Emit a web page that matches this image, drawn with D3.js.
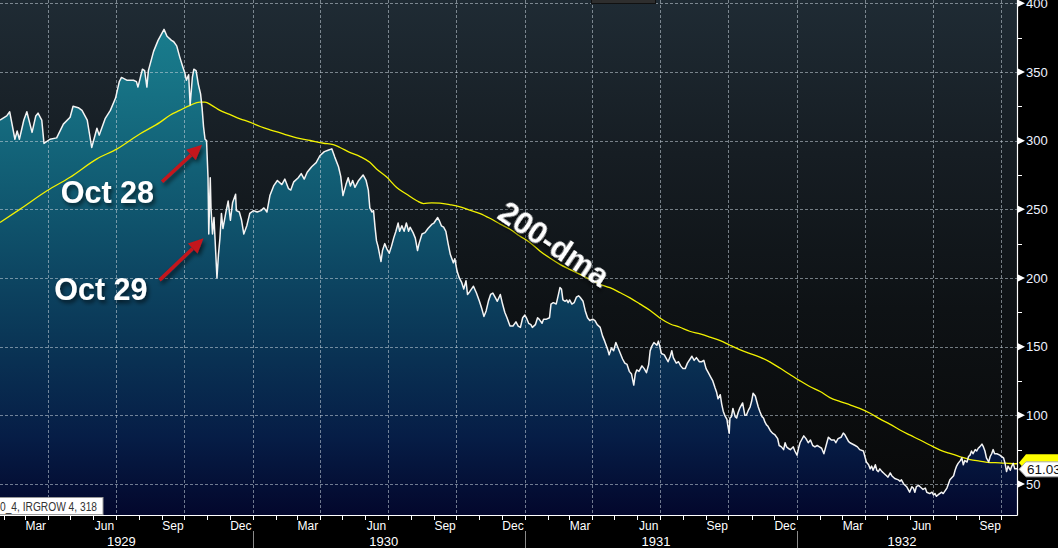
<!DOCTYPE html>
<html><head><meta charset="utf-8">
<script src="https://cdn.jsdelivr.net/npm/d3@7"></script>
<style>html,body{margin:0;padding:0;background:#000;overflow:hidden}svg{display:block}</style>
</head><body>
<svg id="chart" width="1058" height="548"></svg>
<script>
// ---------------- DATA ----------------
const closeDates = [
"1929-01-27","1929-02-05","1929-02-09","1929-02-16","1929-02-19","1929-02-22","1929-02-28","1929-03-04","1929-03-11","1929-03-16",
"1929-03-19","1929-03-24","1929-03-27","1929-04-04","1929-04-13","1929-04-22","1929-05-01","1929-05-05","1929-05-12","1929-05-17",
"1929-05-24","1929-05-30","1929-06-06","1929-06-09","1929-06-17","1929-06-24","1929-07-01","1929-07-06","1929-07-09","1929-07-16",
"1929-07-25","1929-07-29","1929-07-31","1929-08-06","1929-08-09","1929-08-12","1929-08-14","1929-08-21","1929-08-27","1929-09-04",
"1929-09-08","1929-09-14","1929-09-17","1929-09-21","1929-09-25","1929-09-29","1929-10-02","1929-10-04","1929-10-07","1929-10-09",
"1929-10-12","1929-10-14","1929-10-17","1929-10-20","1929-10-23","1929-10-25","1929-10-27","1929-10-29","1929-10-31","1929-11-02",
"1929-11-03","1929-11-05","1929-11-06","1929-11-08","1929-11-10","1929-11-14","1929-11-16","1929-11-18","1929-11-20","1929-11-22",
"1929-11-26","1929-11-29","1929-12-02","1929-12-05","1929-12-09","1929-12-10","1929-12-14","1929-12-17","1929-12-20","1929-12-24",
"1929-12-28","1930-01-02","1930-01-07","1930-01-12","1930-01-16","1930-01-20","1930-01-24","1930-01-29","1930-02-03","1930-02-09",
"1930-02-13","1930-02-18","1930-02-21","1930-02-25","1930-03-03","1930-03-07","1930-03-11","1930-03-15","1930-03-21","1930-03-27",
"1930-04-01","1930-04-07","1930-04-12","1930-04-17","1930-04-21","1930-04-26","1930-04-29","1930-05-02","1930-05-06","1930-05-09",
"1930-05-12","1930-05-15","1930-05-18","1930-05-23","1930-05-26","1930-05-29","1930-06-02","1930-06-05","1930-06-07","1930-06-10",
"1930-06-12","1930-06-14","1930-06-16","1930-06-18","1930-06-22","1930-06-24","1930-06-27","1930-06-30","1930-07-03","1930-07-06",
"1930-07-09","1930-07-12","1930-07-15","1930-07-17","1930-07-20","1930-07-23","1930-07-26","1930-07-29","1930-07-31","1930-08-04",
"1930-08-07","1930-08-10","1930-08-12","1930-08-16","1930-08-20","1930-08-24","1930-08-29","1930-09-01","1930-09-06","1930-09-08",
"1930-09-11","1930-09-14","1930-09-17","1930-09-20","1930-09-23","1930-09-27","1930-09-29","1930-10-02","1930-10-05","1930-10-08",
"1930-10-11","1930-10-14","1930-10-16","1930-10-19","1930-10-24","1930-10-28","1930-11-01","1930-11-04","1930-11-07","1930-11-10",
"1930-11-13","1930-11-16","1930-11-19","1930-11-22","1930-11-25","1930-11-29","1930-12-02","1930-12-05","1930-12-08","1930-12-12",
"1930-12-16","1930-12-20","1930-12-23","1930-12-26","1930-12-29","1931-01-01","1931-01-03","1931-01-06","1931-01-09","1931-01-11",
"1931-01-15","1931-01-18","1931-01-20","1931-01-24","1931-01-26","1931-01-30","1931-02-03","1931-02-05","1931-02-08","1931-02-12",
"1931-02-15","1931-02-17","1931-02-19","1931-02-21","1931-02-24","1931-02-26","1931-02-28","1931-03-02","1931-03-05","1931-03-08",
"1931-03-11","1931-03-14","1931-03-16","1931-03-20","1931-03-23","1931-03-26","1931-03-29","1931-04-02","1931-04-05","1931-04-08",
"1931-04-12","1931-04-15","1931-04-18","1931-04-22","1931-04-24","1931-04-27","1931-04-30","1931-05-03","1931-05-06","1931-05-09",
"1931-05-12","1931-05-15","1931-05-18","1931-05-21","1931-05-24","1931-05-27","1931-05-29","1931-05-31","1931-06-03","1931-06-07",
"1931-06-10","1931-06-13","1931-06-16","1931-06-18","1931-06-20","1931-06-23","1931-06-27","1931-06-29","1931-07-01","1931-07-03",
"1931-07-07","1931-07-09","1931-07-12","1931-07-15","1931-07-17","1931-07-19","1931-07-23","1931-07-26","1931-07-29","1931-08-01",
"1931-08-04","1931-08-07","1931-08-13","1931-08-16","1931-08-19","1931-08-23","1931-08-26","1931-08-29","1931-09-01","1931-09-04",
"1931-09-07","1931-09-10","1931-09-13","1931-09-15","1931-09-17","1931-09-20","1931-09-22","1931-09-24","1931-09-26","1931-09-29",
"1931-09-30","1931-10-02","1931-10-03","1931-10-05","1931-10-07","1931-10-10","1931-10-12","1931-10-14","1931-10-16","1931-10-20",
"1931-10-23","1931-10-25","1931-10-28","1931-10-30","1931-11-01","1931-11-03","1931-11-06","1931-11-08","1931-11-10","1931-11-12",
"1931-11-15","1931-11-17","1931-11-19","1931-11-21","1931-11-23","1931-11-26","1931-11-29","1931-12-02","1931-12-06","1931-12-08",
"1931-12-11","1931-12-14","1931-12-16","1931-12-18","1931-12-20","1931-12-23","1931-12-25","1931-12-27","1931-12-29","1932-01-01",
"1932-01-03","1932-01-05","1932-01-07","1932-01-10","1932-01-13","1932-01-16","1932-01-19","1932-01-22","1932-01-25","1932-01-28",
"1932-01-31","1932-02-03","1932-02-06","1932-02-09","1932-02-12","1932-02-14","1932-02-16","1932-02-20","1932-02-22","1932-02-25",
"1932-02-29","1932-03-03","1932-03-05","1932-03-08","1932-03-10","1932-03-12","1932-03-19","1932-03-22","1932-03-25","1932-03-30",
"1932-04-01","1932-04-03","1932-04-06","1932-04-08","1932-04-10","1932-04-12","1932-04-15","1932-04-17","1932-04-19","1932-04-21",
"1932-04-24","1932-04-26","1932-04-30","1932-05-02","1932-05-05","1932-05-07","1932-05-11","1932-05-16","1932-05-18","1932-05-20",
"1932-05-23","1932-05-27","1932-05-29","1932-05-31","1932-06-03","1932-06-05","1932-06-07","1932-06-09","1932-06-12","1932-06-14",
"1932-06-18","1932-06-21","1932-06-23","1932-06-27","1932-06-30","1932-07-02","1932-07-04","1932-07-06","1932-07-08","1932-07-13",
"1932-07-15","1932-07-20","1932-07-22","1932-07-24","1932-07-29","1932-07-31","1932-08-02","1932-08-04","1932-08-07","1932-08-09",
"1932-08-11","1932-08-13","1932-08-16","1932-08-18","1932-08-20","1932-08-22","1932-08-24","1932-08-27","1932-08-29","1932-08-31",
"1932-09-02","1932-09-05","1932-09-07","1932-09-09","1932-09-11","1932-09-14","1932-09-16","1932-09-18","1932-09-20","1932-09-22",
"1932-09-25","1932-09-29","1932-10-01","1932-10-04","1932-10-06","1932-10-08","1932-10-10","1932-10-13","1932-10-15","1932-10-17",
"1932-10-19","1932-10-22"];
const closeValues = [
315,318,321,301,307,301,315,321,306,318,
320,315,298,301,302,312,317,325,324,322,
315,295,309,304,316,322,331,343,346,344,
344,343,339,352,351,339,351,365,373,381,
376,373,372,369,361,354,349,344,348,326,
346,352,351,341,334,324,310,301,300,273,
232,273,251,232,244,200,217,229,247,236,
248,256,242,255,261,249,248,242,232,238,
247,249,248,249,251,248,260,267,271,268,
272,265,264,270,273,276,272,277,281,284,
289,292,293,294,288,281,274,260,268,273,
267,271,266,271,273,275,271,264,251,248,
249,237,227,223,212,220,225,221,218,223,
229,234,240,234,238,234,240,234,237,233,
229,220,225,232,233,236,239,240,244,242,
238,237,234,225,217,211,214,205,200,197,
192,198,188,190,194,189,183,178,172,176,
183,188,189,186,183,188,181,175,171,165,
165,168,165,164,171,173,171,167,166,164,
166,171,170,167,170,170,171,181,182,181,
188,193,192,184,183,184,182,184,181,182,
186,187,186,183,176,171,169,170,169,166,
164,158,154,148,144,149,147,153,149,145,
141,138,137,132,130,122,130,133,132,136,
134,131,137,147,150,153,151,154,150,145,
144,142,139,143,147,142,138,139,136,134,
134,138,143,140,142,139,139,140,134,131,
128,125,120,117,112,115,108,103,100,97,
93,87,98,99,105,99,98,102,105,109,
100,100,104,106,110,116,114,110,106,103,
99,98,95,93,92,89,87,86,83,78,
77,75,80,77,76,75,76,77,74,71,
76,80,82,85,83,80,82,78,77,78,
77,76,72,78,84,83,82,82,80,83,
84,87,86,83,81,80,78,77,75,74,
70,66,64,61,63,60,64,60,59,61,
59,58,56,55,58,56,54,53,52,53,
50,48,46,44,48,47,44,48,49,48,
46,47,44,43,44,42,43,41,42,44,
43,47,50,53,56,60,63,65,67,69,
64,67,66,70,71,74,72,75,74,76,
77,79,77,74,69,66,70,72,75,72,
72,71,70,69,65,59,63,60,63,65,
61,61.03];

const maDates = [
"1929-01-27","1929-02-23","1929-03-31","1929-05-01","1929-06-06","1929-07-03","1929-08-03","1929-08-30","1929-09-12","1929-09-25",
"1929-10-09","1929-10-22","1929-10-29","1929-11-07","1929-11-18","1929-12-01","1929-12-15","1929-12-28","1930-01-11","1930-01-24",
"1930-02-11","1930-03-01","1930-03-19","1930-04-06","1930-04-19","1930-04-28","1930-05-11","1930-05-25","1930-06-07","1930-06-16",
"1930-06-30","1930-07-13","1930-07-26","1930-08-09","1930-08-18","1930-08-29","1930-09-09","1930-09-23","1930-10-06","1930-10-19",
"1930-11-02","1930-11-15","1930-11-29","1930-12-12","1930-12-25","1931-01-08","1931-01-21","1931-02-04","1931-02-17","1931-03-02",
"1931-03-16","1931-03-29","1931-04-12","1931-04-25","1931-05-09","1931-05-22","1931-06-04","1931-06-18","1931-07-01","1931-07-15",
"1931-07-28","1931-08-10","1931-08-24","1931-09-06","1931-09-20","1931-10-03","1931-10-16","1931-10-30","1931-11-12","1931-11-26",
"1931-12-09","1931-12-23","1932-01-05","1932-01-18","1932-02-01","1932-02-14","1932-02-28","1932-03-12","1932-03-25","1932-04-08",
"1932-04-21","1932-05-05","1932-05-18","1932-05-31","1932-06-14","1932-06-27","1932-07-11","1932-07-24","1932-08-07","1932-08-20",
"1932-09-02","1932-09-16","1932-09-29","1932-10-13","1932-10-22"];
const maValues = [
240.4,250.1,263.5,273.3,286.7,294,305,313.5,318.5,322,
325.7,328.1,328.1,325.7,322,319.1,315.9,313.5,310.3,307.9,
305,302,300.1,298.1,297.1,295,291.5,288.4,284.2,279.4,
273.3,265.9,261.1,256.2,254.2,254.7,254.5,253.3,251.8,249.4,
246.9,243.5,239.2,235.5,230.6,225.7,219.7,214.3,209.9,206.3,
202.6,199,195.3,192.9,189.2,185.5,181.1,176.3,170.9,166.5,
164.1,161.2,159.2,157,154.4,151,147.8,144.9,142.4,138.7,
134.4,129.5,125.1,121,117.3,112.9,110,107.6,105.1,101.5,
97.4,93.4,89.3,85.7,82,78.4,74.7,72.2,69.8,67.8,
66.7,65.6,65.4,64.9,64.7];

const yDomain = [27.4, 402.4];
const yTickValues = [50, 100, 150, 200, 250, 300, 350, 400];
const yMinorValues = [75, 125, 175, 225, 275, 325, 375];
const labelledMonths = ["Mar", "Jun", "Sep", "Dec"];
const legendText = "0_4, IRGROW 4, 318";
const lastValueLabel = "61.03";
const maLabel = "200-dma";
// annotations: arrow tip (date, value) + text
const annotations = [
  {text: "Oct 28", date: "1929-10-25", value: 297},
  {text: "Oct 29", date: "1929-10-27", value: 229}
];

// ---------------- CHART ----------------
const W = 1058, H = 548, PR = 1017, PB = 515;
const FONT = "Liberation Sans, Arial, sans-serif";
const parse = d3.utcParse("%Y-%m-%d");
const close = closeDates.map((d, i) => ({date: parse(d), value: closeValues[i]}));
const ma = maDates.map((d, i) => ({date: parse(d), value: maValues[i]}));

const x = d3.scaleUtc().domain(d3.extent(close, d => d.date)).range([0, PR]);
const y = d3.scaleLinear().domain(yDomain).range([PB, 0]);

const svg = d3.select("#chart");
const defs = svg.append("defs");

const bg = defs.append("linearGradient").attr("id", "bgGrad")
  .attr("gradientUnits", "userSpaceOnUse").attr("x1", 0).attr("y1", 0).attr("x2", 0).attr("y2", PB);
[[0, "#1f2b34"], [0.3, "#161d23"], [0.6, "#0e1215"], [1, "#080808"]]
  .forEach(s => bg.append("stop").attr("offset", s[0]).attr("stop-color", s[1]));

const ag = defs.append("linearGradient").attr("id", "areaGrad")
  .attr("gradientUnits", "userSpaceOnUse").attr("x1", 0).attr("y1", 0).attr("x2", 0).attr("y2", PB);
[[0, "#1a8191"], [0.15, "#177486"], [0.4, "#10576f"], [0.65, "#0a3757"], [0.85, "#061d46"], [1, "#03072c"]]
  .forEach(s => ag.append("stop").attr("offset", s[0]).attr("stop-color", s[1]));

const sh = defs.append("filter").attr("id", "shadow").attr("x", "-20%").attr("y", "-30%").attr("width", "150%").attr("height", "170%");
sh.append("feDropShadow").attr("dx", 2).attr("dy", 3).attr("stdDeviation", 2)
  .attr("flood-color", "#000").attr("flood-opacity", 0.6);

const clip = defs.append("clipPath").attr("id", "plotClip");
clip.append("rect").attr("x", 0).attr("y", 0).attr("width", PR).attr("height", PB);

svg.append("rect").attr("width", W).attr("height", H).attr("fill", "#000");
svg.append("rect").attr("x", 0).attr("y", 0).attr("width", PR).attr("height", PB).attr("fill", "url(#bgGrad)");

const plot = svg.append("g").attr("clip-path", "url(#plotClip)");

// area
plot.append("path").datum(close)
  .attr("d", d3.area().x(d => x(d.date)).y0(PB).y1(d => y(d.value)))
  .attr("fill", "url(#areaGrad)");

// gridlines
const quarterStarts = d3.utcMonth.range(x.domain()[0], x.domain()[1]).filter(d => d.getUTCMonth() % 3 === 0);
plot.append("g").selectAll("line").data(yTickValues).join("line")
  .attr("x1", 0).attr("x2", PR).attr("y1", d => Math.round(y(d)) + 0.5).attr("y2", d => Math.round(y(d)) + 0.5)
  .attr("stroke", "rgba(200,212,220,0.55)").attr("stroke-width", 1).attr("stroke-dasharray", "3,2");
plot.append("g").selectAll("line").data(quarterStarts).join("line")
  .attr("x1", d => Math.round(x(d)) + 0.5).attr("x2", d => Math.round(x(d)) + 0.5).attr("y1", 0).attr("y2", PB)
  .attr("stroke", "rgba(200,212,220,0.55)").attr("stroke-width", 1).attr("stroke-dasharray", "3,2");

// moving average
plot.append("path").datum(ma)
  .attr("d", d3.line().x(d => x(d.date)).y(d => y(d.value)).curve(d3.curveMonotoneX))
  .attr("fill", "none").attr("stroke", "#f2f200").attr("stroke-width", 1.3);

// close line
plot.append("path").datum(close)
  .attr("d", d3.line().x(d => x(d.date)).y(d => y(d.value)))
  .attr("fill", "none").attr("stroke", "#f4f4f4").attr("stroke-width", 1.5).attr("stroke-linejoin", "round");

// small legend box at top
svg.append("rect").attr("x", 591.5).attr("y", -2).attr("width", 64).attr("height", 5.5)
  .attr("fill", "#2e2e2e").attr("stroke", "#111");

// axes lines
svg.append("line").attr("x1", 0).attr("x2", PR + 0.5).attr("y1", PB + 0.5).attr("y2", PB + 0.5).attr("stroke", "#fff").attr("stroke-width", 1.2);
svg.append("line").attr("x1", PR + 0.5).attr("x2", PR + 0.5).attr("y1", 0).attr("y2", PB + 0.5).attr("stroke", "#fff").attr("stroke-width", 1.2);

// right axis ticks and labels
const ya = svg.append("g");
ya.selectAll("path").data(yTickValues).join("path")
  .attr("d", d => { const yy = y(d); return `M${PR + 1},${yy - 3.5}L${PR + 8},${yy}L${PR + 1},${yy + 3.5}Z`; })
  .attr("fill", "#fff");
ya.selectAll("line").data(yMinorValues).join("line")
  .attr("x1", PR + 1).attr("x2", PR + 5).attr("y1", d => Math.round(y(d)) + 0.5).attr("y2", d => Math.round(y(d)) + 0.5)
  .attr("stroke", "#fff");
ya.selectAll("text").data(yTickValues).join("text")
  .attr("x", PR + 9).attr("y", d => y(d)).attr("dy", "0.36em")
  .attr("fill", "#eef3ff").attr("font-family", FONT).attr("font-size", 13)
  .text(d => d);

// bottom axis
const months = d3.utcMonth.range(d3.utcMonth.ceil(x.domain()[0]), x.domain()[1]);
const xa = svg.append("g");
xa.append("g").selectAll("line").data(months).join("line")
  .attr("x1", d => Math.round(x(d)) + 0.5).attr("x2", d => Math.round(x(d)) + 0.5)
  .attr("y1", PB).attr("y2", PB + 5).attr("stroke", "#fff");
const fmtMonth = d3.utcFormat("%b");
const labelMonths = months.filter(d => labelledMonths.includes(fmtMonth(d)));
xa.append("g").selectAll("text").data(labelMonths).join("text")
  .attr("x", d => x(d3.utcDay.offset(d, 15))).attr("y", 530)
  .attr("text-anchor", "middle").attr("fill", "#fff")
  .attr("font-family", FONT).attr("font-size", 12)
  .text(d => fmtMonth(d));
const years = d3.utcYear.range(d3.utcYear.floor(x.domain()[0]), x.domain()[1]);
const yearStarts = years.filter(d => d > x.domain()[0]);
xa.append("g").selectAll("line").data(yearStarts).join("line")
  .attr("x1", d => Math.round(x(d)) + 0.5).attr("x2", d => Math.round(x(d)) + 0.5)
  .attr("y1", 531).attr("y2", H).attr("stroke", "#8a8a8a");
xa.append("g").selectAll("text").data(years).join("text")
  .attr("x", d => {
    const a = Math.max(0, x(d)), b = Math.min(PR, x(d3.utcYear.offset(d, 1)));
    return (a + b) / 2 - 5;
  })
  .attr("y", 546).attr("text-anchor", "middle").attr("fill", "#fff")
  .attr("font-family", FONT).attr("font-size", 13)
  .text(d => d3.utcFormat("%Y")(d));

// bottom-left legend box
svg.append("rect").attr("x", -1).attr("y", 497.5).attr("width", 104).attr("height", 17)
  .attr("fill", "#fff").attr("stroke", "#999");
svg.append("text").attr("x", 0).attr("y", 511).attr("fill", "#333")
  .attr("font-family", FONT).attr("font-size", 12.5)
  .attr("textLength", 97).attr("lengthAdjust", "spacingAndGlyphs").text(legendText);

// last value tags
const maLast = ma[ma.length - 1], cLast = close[close.length - 1];
function tagPath(cy, h) {
  return `M${PR + 2},${cy}L${PR + 9},${cy - h / 2}L${W + 2},${cy - h / 2}L${W + 2},${cy + h / 2}L${PR + 9},${cy + h / 2}Z`;
}
svg.append("path").attr("d", tagPath(y(maLast.value) - 1, 17)).attr("fill", "#ffff00");
svg.append("path").attr("d", tagPath(y(cLast.value) + 0.5, 15)).attr("fill", "#fff").attr("stroke", "#aaa");
svg.append("text").attr("x", PR + 10).attr("y", y(cLast.value) + 0.5).attr("dy", "0.36em")
  .attr("fill", "#111").attr("font-family", FONT).attr("font-size", 13.5)
  .text(lastValueLabel);

// annotations: arrow from tail to tip, label to the lower-left of the tail
const annLayout = [
  {tail: [-40, 37], label: [-48, 58]},
  {tail: [-44, 42], label: [-56, 62]}
];
const ann = svg.append("g");
annotations.forEach((a, i) => {
  const L = annLayout[i];
  const tx = x(parse(a.date)), ty = y(a.value);
  const sx = tx + L.tail[0], sy = ty + L.tail[1];
  const ang = Math.atan2(ty - sy, tx - sx);
  const hl = 15, hw = 7;
  const bx = tx - hl * Math.cos(ang), by = ty - hl * Math.sin(ang);
  const px = -Math.sin(ang), py = Math.cos(ang);
  const g = ann.append("g").attr("filter", "url(#shadow)");
  g.append("line").attr("x1", sx).attr("y1", sy).attr("x2", bx).attr("y2", by)
    .attr("stroke", "#c4161c").attr("stroke-width", 3.5);
  g.append("path").attr("d", `M${tx},${ty}L${bx + px * hw},${by + py * hw}L${bx - px * hw},${by - py * hw}Z`)
    .attr("fill", "#c4161c");
  ann.append("text").attr("x", tx + L.label[0]).attr("y", ty + L.label[1]).attr("text-anchor", "end")
    .attr("fill", "#fff").attr("font-weight", "bold").attr("font-size", 30.5)
    .attr("font-family", FONT).attr("filter", "url(#shadow)")
    .text(a.text);
});

// 200-dma label, placed along the moving average
const maRef = ma.find(d => d.date >= parse("1931-01-08"));
svg.append("text")
  .attr("transform", `translate(${x(maRef.date) + 24},${y(maRef.value) + 1}) rotate(34)`)
  .attr("text-anchor", "middle").attr("dy", "0.35em")
  .attr("fill", "#fff").attr("font-weight", "bold").attr("font-size", 31)
  .attr("font-family", FONT).attr("filter", "url(#shadow)")
  .text(maLabel);
</script>
</body></html>
